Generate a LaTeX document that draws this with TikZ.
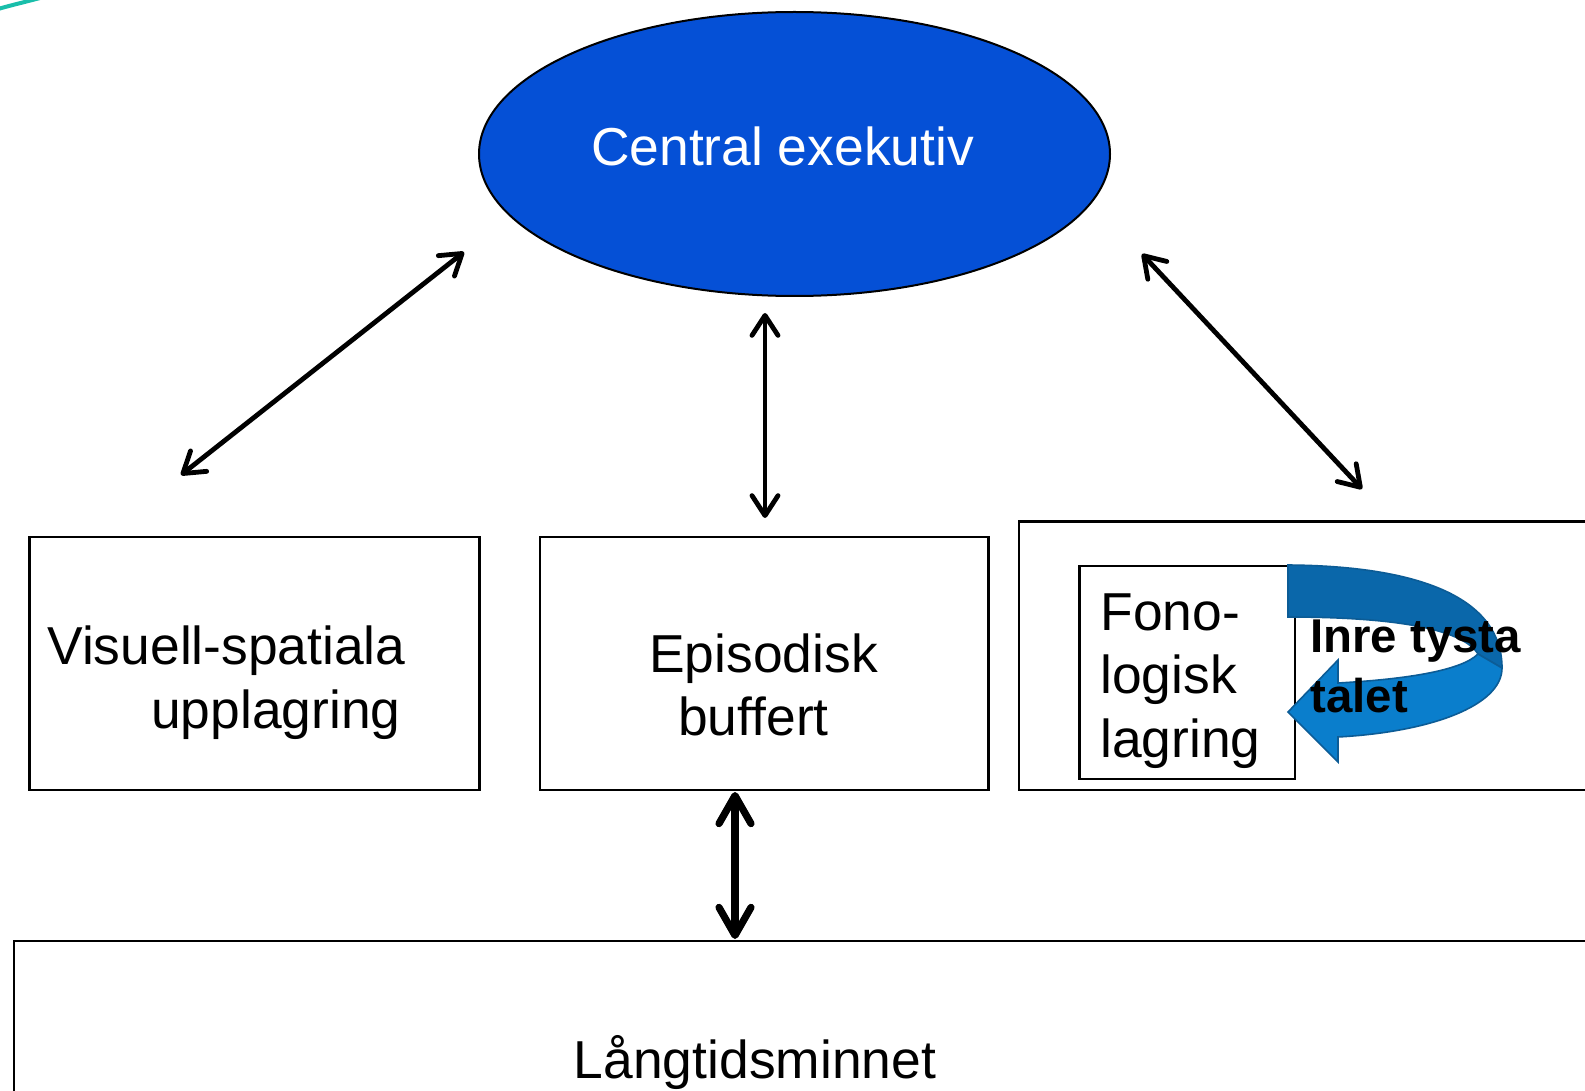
\documentclass[tikz,border=0pt]{standalone}
\usepackage{fontspec}
\setmainfont{Liberation Sans}
\usetikzlibrary{arrows.meta,shapes.geometric}
\definecolor{execblue}{RGB}{5,80,214}
\definecolor{ribbondark}{RGB}{10,103,170}
\definecolor{ribbonlight}{RGB}{10,126,204}
\definecolor{ribbonedge}{RGB}{12,92,150}
\definecolor{tealarc}{RGB}{25,190,170}

\tikzset{
  barb/.tip={Straight Barb[length=10pt,width=13pt,round]},
  heavybarb/.tip={Straight Barb[length=14pt,width=16pt,round]}
}

\begin{document}
\begin{tikzpicture}[x=0.5pt,y=-0.5pt,
  box/.style={draw=black, line width=1.2pt, fill=white, inner sep=0pt, outer sep=0pt},
  txt/.style={font=\fontsize{26.7pt}{31.5pt}\selectfont, inner sep=0pt, text=black},
  boldtxt/.style={font=\fontsize{23.7pt}{28pt}\selectfont\bfseries, inner sep=0pt, text=black},
  link/.style={line width=2.4pt, {barb}-{barb}},
  heavylink/.style={line width=3.6pt, {heavybarb}-{heavybarb}}]

\useasboundingbox (0,0) rectangle (1585,1091);
\clip (0,0) rectangle (1585,1091);
\fill[white] (0,0) rectangle (1585,1091);

% corner accent
\draw[tealarc, line width=2pt] (-2,9) .. controls (12,5) and (25,2) .. (40,-2);

% central executive
\node[ellipse, draw=black, line width=1pt, fill=execblue, inner sep=0pt,
      minimum width=315.5pt, minimum height=142pt] (ce) at (794.5,154) {};
\node[txt, text=white, anchor=base] (cetext) at (782.5,166) {Central exekutiv};

% storage boxes
\node[box, minimum width=225pt, minimum height=126.5pt] (vs) at (254.5,663.5) {};
\node[box, minimum width=224.25pt, minimum height=126.5pt] (ep) at (764.25,663.5) {};
\node[box, minimum width=290.5pt, minimum height=134.25pt] (ph) at (1309.5,655.75) {};
\node[box, minimum width=107.75pt, minimum height=106.5pt] (fono) at (1187.25,672.5) {};
\node[box, minimum width=793pt, minimum height=84.5pt] (lt) at (807,1025.5) {};

% rehearsal loop ribbon
\path[fill=ribbondark, draw=ribbonedge, line width=0.8pt]
  (1288,565) .. controls (1420,566) and (1502,598) .. (1502,668)
  -- (1478,654) .. controls (1462,628) and (1390,617) .. (1288,617) -- cycle;
\path[fill=ribbonlight, draw=ribbonedge, line width=0.8pt]
  (1502,668) .. controls (1502,706) and (1430,732) .. (1338,737)
  -- (1338,762) -- (1288,712) -- (1338,660) -- (1338,683)
  .. controls (1410,679) and (1462,670) .. (1478,654) -- cycle;

% texts
\node[txt, anchor=base east] (vs1) at (406,664) {Visuell-spatiala};
\node[txt, anchor=base east] (vs2) at (401,728) {upplagring};
\node[txt, anchor=base] (ep1) at (763.5,672) {Episodisk};
\node[txt, anchor=base] (ep2) at (753.5,735) {buffert};
\node[txt, anchor=base west] (fo1) at (1100,630) {Fono-};
\node[txt, anchor=base west] (fo2) at (1100,693) {logisk};
\node[txt, anchor=base west] (fo3) at (1100,757) {lagring};
\node[boldtxt, anchor=base west] (in1) at (1310,652) {Inre tysta};
\node[boldtxt, anchor=base west] (in2) at (1310,712) {talet};
\node[txt, anchor=base] (lttext) at (755,1078) {Långtidsminnet};

% connector ends
\coordinate (vsEnd) at (181,475);
\coordinate (ceLeft) at (464,252);
\coordinate (ceBottom) at (765,313);
\coordinate (epTop) at (765,518);
\coordinate (ceRight) at (1142,254);
\coordinate (phEnd) at (1362,489);
\coordinate (epBottom) at (735,792);
\coordinate (ltTop) at (735,939);

\draw[link] (vsEnd) -- (ceLeft);
\draw[link] (ceBottom) -- (epTop);
\draw[link] (ceRight) -- (phEnd);
\draw[heavylink] (epBottom) -- (ltTop);
\end{tikzpicture}
\end{document}
